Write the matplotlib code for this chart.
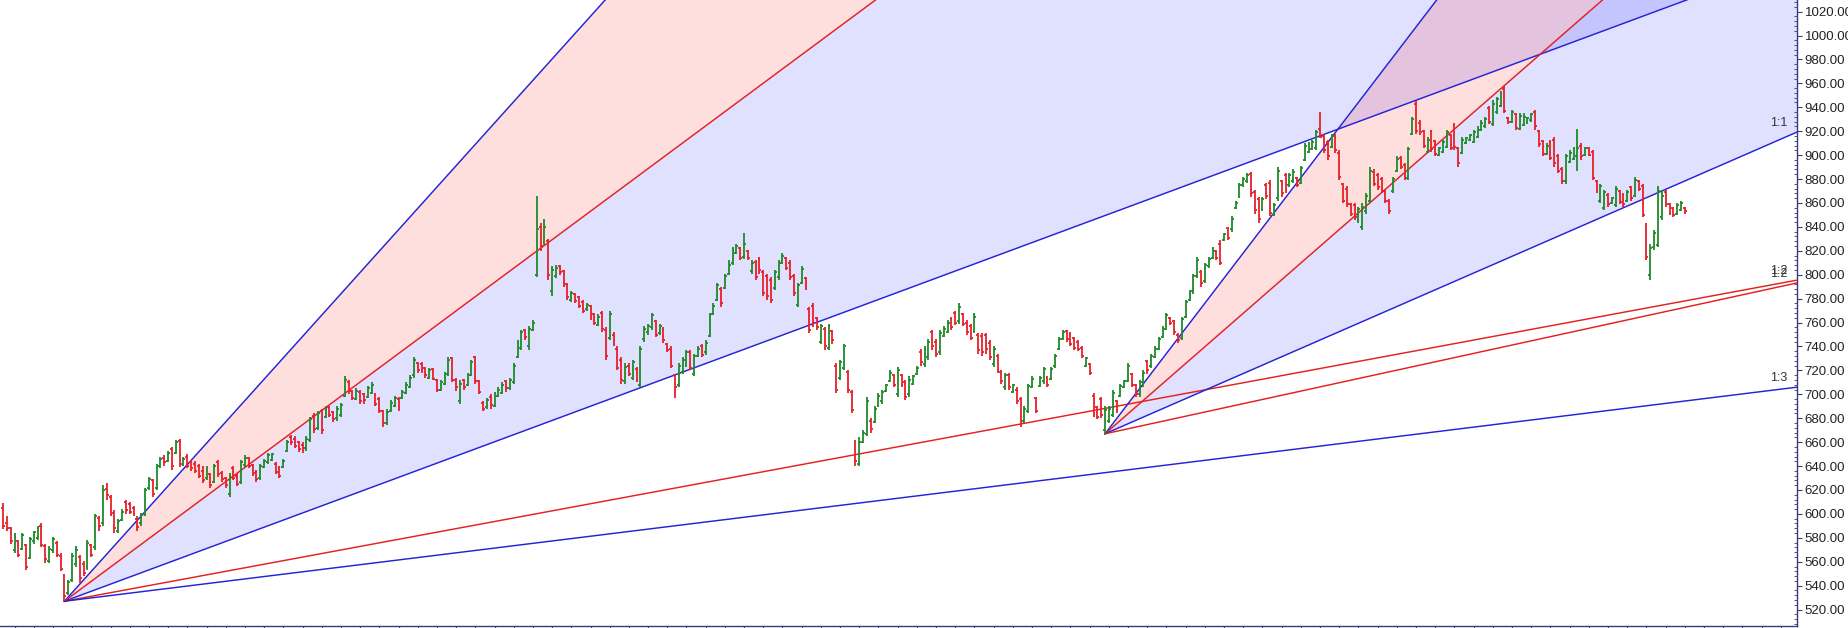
import matplotlib
matplotlib.use("Agg")
import matplotlib.pyplot as plt
from matplotlib.collections import LineCollection
from matplotlib.ticker import FormatStrFormatter, MultipleLocator
import numpy as np

plt.rcParams['font.family'] = ['Liberation Sans', 'DejaVu Sans']

# daily OHLC bars
opens = [
    605, 592, 588, 570, 577, 571, 574, 563, 577, 580, 590, 573, 561, 570, 576, 565, 548, 534, 545, 558,
    564, 558, 556, 574, 572, 597, 592, 621, 614, 601, 586, 595, 610, 608, 605, 596, 592, 600, 622, 628,
    622, 640, 647, 644, 654, 651, 661, 641, 648, 643, 642, 640, 636, 630, 633, 627, 643, 634, 630, 617,
    638, 632, 627, 641, 647, 641, 635, 630, 639, 643, 645, 642, 638, 639, 653, 664, 663, 660, 658, 655,
    662, 682, 672, 686, 681, 689, 685, 680, 683, 699, 710, 703, 696, 702, 700, 698, 701, 700, 696, 686,
    676, 686, 690, 696, 697, 701, 706, 716, 726, 725, 722, 714, 721, 712, 704, 709, 716, 730, 712, 694,
    712, 708, 716, 731, 711, 693, 689, 698, 690, 699, 701, 711, 705, 710, 731, 739, 754, 740, 754, 800,
    840, 827, 828, 786, 799, 807, 803, 791, 779, 784, 781, 777, 771, 774, 767, 758, 768, 754, 747, 750,
    738, 729, 711, 724, 714, 721, 708, 746, 752, 756, 761, 751, 755, 742, 738, 716, 708, 719, 724, 735,
    717, 732, 740, 735, 749, 767, 779, 788, 789, 801, 810, 818, 822, 815, 820, 803, 811, 813, 802, 799,
    796, 789, 798, 811, 814, 810, 799, 775, 793, 797, 771, 774, 764, 744, 755, 739, 753, 724, 714, 722,
    719, 702, 660, 642, 660, 667, 678, 677, 690, 694, 703, 711, 716, 700, 716, 710, 700, 709, 717, 735,
    725, 731, 752, 744, 735, 749, 752, 763, 768, 761, 767, 760, 757, 753, 750, 749, 750, 743, 725, 732,
    719, 706, 716, 702, 704, 696, 678, 686, 706, 697, 707, 711, 714, 713, 724, 738, 746, 753, 750, 747,
    744, 739, 724, 725, 699, 689, 696, 670, 678, 683, 694, 699, 706, 711, 717, 708, 700, 708, 728, 724,
    731, 738, 748, 755, 764, 761, 750, 747, 765, 779, 786, 799, 802, 795, 807, 814, 820, 826, 829, 839,
    838, 856, 865, 875, 878, 884, 869, 863, 855, 875, 877, 850, 864, 878, 883, 875, 878, 881, 877, 896,
    903, 905, 906, 922, 916, 911, 907, 916, 902, 876, 872, 859, 858, 845, 840, 853, 862, 886, 883, 880,
    870, 862, 870, 887, 898, 892, 881, 918, 943, 927, 920, 903, 920, 912, 900, 903, 907, 917, 925, 906,
    902, 910, 913, 911, 915, 921, 924, 939, 926, 936, 941, 955, 931, 928, 934, 922, 925, 927, 929, 936,
    920, 912, 901, 911, 913, 899, 888, 878, 894, 897, 899, 908, 900, 906, 903, 878, 862, 856, 867, 860,
    858, 870, 867, 862, 873, 866, 878, 874, 841, 800, 823, 825, 848, 869, 859, 856, 851, 854, 856,
]
highs = [
    609, 598, 589, 584, 578, 584, 575, 581, 586, 590, 592, 575, 573, 581, 577, 567, 550, 545, 567, 573,
    566, 561, 578, 575, 600, 598, 624, 626, 616, 603, 596, 604, 612, 610, 607, 598, 601, 622, 631, 629,
    642, 648, 649, 653, 656, 662, 663, 648, 650, 645, 644, 642, 640, 640, 634, 642, 645, 636, 631, 634,
    640, 634, 645, 649, 648, 642, 637, 642, 646, 651, 651, 643, 640, 646, 662, 666, 665, 661, 660, 665,
    681, 684, 686, 688, 690, 690, 686, 690, 693, 715, 712, 704, 705, 704, 701, 707, 710, 701, 698, 687,
    688, 695, 699, 698, 704, 710, 716, 731, 727, 727, 723, 722, 722, 713, 712, 719, 731, 731, 714, 712,
    713, 718, 729, 732, 712, 694, 697, 700, 702, 706, 710, 712, 714, 726, 745, 754, 755, 757, 762, 866,
    843, 847, 830, 807, 808, 808, 804, 793, 786, 785, 782, 779, 776, 775, 768, 767, 770, 756, 770, 752,
    740, 731, 726, 726, 729, 723, 740, 757, 759, 768, 762, 759, 756, 743, 740, 717, 726, 731, 737, 737,
    734, 740, 742, 745, 768, 776, 793, 790, 801, 812, 823, 826, 823, 835, 821, 812, 812, 815, 804, 801,
    798, 804, 812, 818, 815, 812, 801, 793, 807, 798, 773, 776, 765, 759, 756, 759, 754, 726, 729, 742,
    720, 704, 662, 664, 670, 698, 680, 690, 701, 704, 709, 720, 717, 723, 717, 712, 715, 716, 724, 738,
    740, 746, 754, 746, 754, 757, 762, 765, 770, 776, 768, 762, 759, 768, 751, 751, 751, 745, 740, 734,
    720, 718, 718, 709, 706, 698, 690, 709, 715, 698, 715, 723, 715, 723, 734, 748, 754, 754, 752, 748,
    745, 740, 731, 726, 701, 690, 698, 690, 690, 704, 695, 709, 712, 726, 718, 709, 712, 720, 729, 734,
    740, 748, 757, 768, 765, 762, 751, 765, 779, 787, 801, 815, 804, 810, 815, 823, 821, 829, 835, 840,
    849, 862, 877, 882, 885, 886, 871, 865, 865, 877, 879, 860, 890, 879, 885, 885, 888, 882, 891, 910,
    911, 913, 921, 936, 918, 913, 918, 918, 904, 877, 874, 860, 860, 857, 860, 868, 890, 888, 885, 882,
    871, 863, 882, 899, 899, 893, 907, 932, 945, 929, 921, 915, 921, 913, 907, 913, 921, 918, 927, 907,
    915, 915, 918, 921, 924, 929, 932, 941, 946, 949, 954, 958, 932, 938, 935, 935, 935, 932, 935, 938,
    921, 913, 910, 913, 915, 901, 890, 901, 904, 907, 922, 910, 907, 907, 904, 879, 876, 871, 868, 865,
    874, 871, 868, 871, 874, 882, 879, 876, 843, 826, 837, 874, 871, 871, 860, 857, 860, 862, 857,
]
lows = [
    587, 586, 575, 567, 564, 570, 553, 562, 575, 578, 572, 559, 559, 567, 564, 552, 527, 532, 543, 556,
    542, 548, 553, 564, 570, 586, 590, 612, 598, 584, 584, 594, 600, 600, 598, 586, 590, 598, 620, 614,
    620, 638, 640, 643, 637, 650, 639, 640, 638, 636, 634, 630, 626, 628, 622, 626, 631, 627, 622, 614,
    628, 623, 625, 639, 638, 632, 627, 628, 638, 642, 644, 633, 630, 638, 652, 658, 655, 652, 651, 653,
    660, 668, 670, 667, 680, 681, 677, 678, 681, 698, 700, 695, 695, 692, 692, 697, 700, 690, 684, 673,
    674, 685, 689, 686, 696, 700, 705, 714, 718, 718, 714, 713, 712, 702, 703, 708, 715, 710, 703, 692,
    704, 707, 715, 709, 700, 686, 688, 688, 689, 698, 700, 702, 704, 709, 730, 737, 745, 737, 753, 798,
    820, 825, 796, 782, 797, 800, 790, 779, 777, 776, 772, 768, 770, 762, 758, 757, 752, 729, 745, 740,
    720, 709, 709, 715, 712, 710, 706, 744, 750, 754, 748, 750, 743, 735, 722, 697, 706, 717, 723, 720,
    715, 731, 731, 733, 748, 766, 778, 773, 788, 800, 808, 817, 812, 813, 812, 801, 796, 801, 782, 779,
    776, 787, 796, 809, 804, 796, 782, 773, 792, 787, 751, 756, 754, 742, 737, 737, 742, 701, 712, 720,
    701, 684, 640, 640, 659, 665, 668, 676, 689, 692, 702, 710, 706, 698, 706, 695, 698, 708, 716, 724,
    723, 729, 737, 731, 733, 748, 751, 754, 758, 759, 757, 750, 745, 751, 734, 732, 734, 729, 723, 718,
    709, 704, 704, 701, 692, 673, 676, 684, 705, 684, 706, 709, 706, 712, 722, 737, 745, 744, 740, 737,
    736, 730, 723, 716, 681, 679, 680, 667, 676, 681, 684, 698, 705, 710, 706, 698, 698, 706, 717, 722,
    730, 737, 747, 754, 758, 750, 743, 745, 764, 778, 784, 797, 790, 793, 806, 813, 812, 808, 828, 829,
    836, 855, 864, 873, 877, 865, 851, 843, 853, 863, 849, 849, 862, 865, 868, 873, 877, 873, 876, 895,
    902, 904, 904, 914, 902, 896, 906, 902, 879, 860, 857, 849, 846, 843, 837, 851, 860, 874, 871, 868,
    860, 851, 868, 886, 888, 879, 879, 917, 918, 917, 906, 902, 903, 899, 899, 902, 906, 904, 904, 890,
    901, 909, 912, 910, 914, 920, 923, 926, 924, 934, 940, 935, 926, 927, 921, 921, 924, 926, 928, 921,
    907, 899, 900, 896, 890, 885, 876, 876, 893, 896, 887, 896, 899, 899, 879, 868, 860, 854, 857, 859,
    857, 859, 857, 861, 862, 865, 870, 848, 812, 796, 821, 823, 846, 857, 850, 848, 850, 853, 851,
]
closes = [
    590, 588, 577, 581, 566, 582, 556, 579, 585, 588, 574, 562, 571, 579, 566, 554, 531, 543, 565, 570,
    546, 551, 576, 566, 598, 590, 620, 616, 600, 588, 594, 602, 603, 602, 600, 589, 599, 620, 629, 617,
    640, 646, 643, 651, 640, 660, 642, 646, 640, 638, 636, 632, 628, 638, 624, 640, 633, 629, 624, 632,
    630, 625, 643, 647, 640, 634, 629, 640, 644, 649, 650, 635, 632, 644, 660, 660, 657, 654, 655, 663,
    679, 671, 684, 670, 688, 683, 679, 688, 691, 712, 703, 697, 703, 694, 695, 705, 708, 692, 686, 676,
    685, 693, 697, 689, 702, 708, 714, 729, 720, 720, 716, 720, 713, 704, 710, 717, 729, 712, 706, 709,
    706, 716, 727, 711, 702, 688, 695, 691, 700, 704, 708, 705, 712, 724, 743, 752, 748, 755, 760, 838,
    824, 840, 800, 804, 806, 802, 792, 781, 785, 778, 774, 770, 775, 764, 760, 765, 755, 732, 767, 742,
    722, 712, 723, 717, 727, 712, 738, 755, 757, 766, 750, 757, 745, 737, 724, 706, 724, 729, 735, 722,
    732, 738, 733, 743, 766, 774, 791, 776, 799, 808, 821, 824, 814, 826, 814, 810, 798, 804, 785, 782,
    779, 802, 810, 816, 806, 798, 785, 791, 805, 789, 754, 760, 756, 757, 740, 757, 745, 704, 727, 740,
    704, 687, 644, 660, 668, 694, 671, 688, 699, 702, 708, 718, 708, 720, 709, 698, 712, 715, 722, 727,
    737, 744, 740, 734, 751, 755, 760, 756, 760, 773, 759, 752, 747, 765, 737, 735, 738, 731, 738, 720,
    711, 716, 706, 708, 694, 677, 688, 707, 713, 686, 714, 721, 708, 721, 732, 746, 752, 746, 742, 739,
    738, 732, 730, 718, 684, 681, 683, 687, 688, 701, 687, 707, 711, 724, 708, 700, 710, 718, 720, 732,
    738, 746, 755, 766, 760, 752, 745, 763, 777, 785, 799, 812, 793, 808, 813, 821, 814, 810, 834, 831,
    847, 860, 875, 880, 883, 868, 854, 847, 863, 866, 852, 858, 887, 868, 871, 883, 886, 875, 889, 908,
    909, 911, 919, 915, 904, 899, 916, 904, 882, 862, 859, 851, 848, 855, 857, 866, 887, 876, 873, 870,
    862, 853, 880, 897, 890, 881, 905, 930, 920, 919, 908, 913, 905, 901, 906, 911, 919, 906, 907, 893,
    913, 914, 917, 919, 922, 927, 930, 928, 943, 947, 952, 937, 928, 936, 923, 933, 932, 931, 934, 924,
    909, 901, 908, 898, 893, 887, 878, 899, 902, 905, 906, 899, 906, 900, 881, 870, 874, 869, 859, 864,
    872, 861, 859, 869, 864, 879, 872, 850, 815, 822, 835, 870, 866, 859, 852, 850, 858, 860, 853,
]

# Gann fans: pivot bar, pivot price, price per bar of the 1:1 line, ratios drawn
fan1_bar, fan1_price, fan1_unit = 16, 527, 1.19
fan2_bar, fan2_price, fan2_unit = 287, 667, 1.40
fan1_ratios = [3, 2, 1, 1 / 2, 1 / 3]
fan2_ratios = [3, 2, 1, 1 / 2]
ratio_names = {3: '3:1', 2: '2:1', 1: '1:1', 1 / 2: '1:2', 1 / 3: '1:3'}

yticks = list(range(520, 1021, 20))

UP = '#1f8a2a'
DOWN = '#e8202a'
BLUE = '#2323d8'
RED = '#e52020'
AXC = '#3a3a78'

W, H = 1849, 628
fig = plt.figure(figsize=(W / 100, H / 100), dpi=100)
ax = fig.add_axes([0, 2.5 / H, 1797 / W, 625.5 / H])
x_left, x_right = -0.78, 467.2
ax.set_xlim(x_left, x_right)
ax.set_ylim(506.7, 1029.7)


def fan(bar, price, unit, ratios):
    xs = np.array([bar, x_right + 20])
    lines = {r: price + r * unit * (xs - bar) for r in ratios}
    ax.fill_between(xs, lines[2], lines[3], color='red', alpha=0.13, lw=0, zorder=1)
    ax.fill_between(xs, lines[1], lines[2], color='blue', alpha=0.12, lw=0, zorder=1)
    for r in ratios:
        col = RED if r in (2, 1 / 2) else BLUE
        ax.plot(xs, lines[r], color=col, lw=1.05, zorder=2)
        y_end = price + r * unit * (x_right - bar)
        if y_end < ax.get_ylim()[1]:
            ax.annotate(ratio_names[r], (x_right, y_end), xytext=(-7, 2),
                        textcoords='offset points', ha='right', va='bottom',
                        fontsize=9, color='#333333', zorder=4)


fan(fan1_bar, fan1_price, fan1_unit, fan1_ratios)
fan(fan2_bar, fan2_price, fan2_unit, fan2_ratios)

# OHLC bars
segs, cols = [], []
for i, (o, h, l, c) in enumerate(zip(opens, highs, lows, closes)):
    col = UP if c >= o else DOWN
    segs += [[(i, l), (i, h)], [(i - 0.5, o), (i, o)], [(i, c), (i + 0.5, c)]]
    cols += [col] * 3
ax.add_collection(LineCollection(segs, colors=cols, linewidths=1.3, zorder=3))

# axes styling
for s in ('top', 'left'):
    ax.spines[s].set_visible(False)
for s in ('right', 'bottom'):
    ax.spines[s].set_color(AXC)
    ax.spines[s].set_linewidth(1.0)

ax.yaxis.tick_right()
ax.set_yticks(yticks)
ax.yaxis.set_major_formatter(FormatStrFormatter('%.2f'))
ax.yaxis.set_minor_locator(MultipleLocator(4))
ax.tick_params(axis='y', which='major', direction='out', length=3.6, width=0.8,
               color=AXC, labelsize=9.5, labelcolor='#222222', pad=2)
ax.tick_params(axis='y', which='minor', direction='in', length=2, width=0.6, color=AXC)

ax.set_xticks(list(range(3, 468, 5)))
ax.tick_params(axis='x', which='major', direction='out', length=2.2, width=0.8,
               color=AXC, labelbottom=False)

fig.savefig('out.png', dpi=100)
